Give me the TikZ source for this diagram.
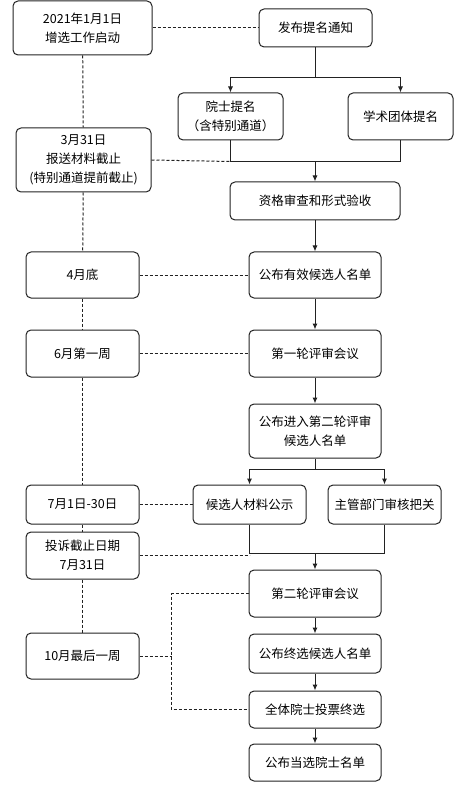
\documentclass[tikz,border=0pt]{standalone}
\usepackage{fontspec}
\usepackage{tikz}
\usetikzlibrary{arrows.meta, positioning}
\newfontfamily\cjkfont{Noto Sans CJK SC}
\definecolor{linegray}{HTML}{222222}

\begin{document}
\begin{tikzpicture}[
    node distance = 30pt and 40pt,
    every node/.style = {font=\cjkfont\fontsize{12.5}{19}\selectfont},
    box/.style = {rectangle, rounded corners=5pt, minimum width=132pt,
                  minimum height=47pt, draw=linegray, line width=1pt,
                  align=center, inner sep=2pt},
    datebox/.style = {box, minimum width=113pt},
    line/.style = {line width=1pt, color=linegray},
    arrow/.style = {-{Latex[length=6pt, width=5pt]}, line width=1pt, color=linegray},
    dashline/.style = {dash pattern=on 3pt off 2pt, line width=1pt, color=linegray}
  ]
    \useasboundingbox (0pt,0pt) rectangle (455pt,-791pt);

    % Main procedure
    \node[box, minimum width=113pt, minimum height=38pt] (notice) at (315.5pt,-28pt) {发布提名通知};
    \node[box, minimum width=105pt, below=45pt of notice, xshift=-85pt] (acad) {院士提名\\（含特别通道）};
    \node[box, minimum width=105pt, right=64pt of acad] (society) {学术团体提名};
    \node[box, minimum width=170pt, minimum height=38pt] (check) at (315pt,-201pt) {资格审查和形式验收};
    \node[box, minimum height=46pt, below=31pt of check] (valid) {公布有效候选人名单};
    \node[box, below=31pt of valid] (round1) {第一轮评审会议};
    \node[box, minimum height=54pt, below=26pt of round1] (list2) {公布进入第二轮评审\\候选人名单};
    \node[box, minimum width=113pt, minimum height=39pt, below=26pt of list2, xshift=-65.5pt] (public) {候选人材料公示};
    \node[box, minimum width=113pt, minimum height=39pt, right=21pt of public] (dept) {主管部门审核把关};
    \node[box] (round2) at (315pt,-593.5pt) {第二轮评审会议};
    \node[box, minimum height=39pt, below=16pt of round2] (final) {公布终选候选人名单};
    \node[box, minimum height=37pt, below=17pt of final] (vote) {全体院士投票终选};
    \node[box, minimum height=37pt, below=15pt of vote] (elected) {公布当选院士名单};

    % Dates
    \node[datebox, minimum width=139pt, minimum height=54pt, left=106pt of notice] (d1) {2021年1月1日\\增选工作启动};
    \node[datebox, minimum width=135pt, minimum height=64pt] (d2) at (83.5pt,-160pt) {3月31日\\报送材料截止\\(特别通道提前截止)};
    \node[datebox, minimum height=46pt, left=109pt of valid] (d3) {4月底};
    \node[datebox, left=109pt of round1] (d4) {6月第一周};
    \node[datebox, minimum height=39pt, left=53pt of public] (d5) {7月1日-30日};
    \node[datebox, below=7pt of d5] (d6) {投诉截止日期\\7月31日};
    \node[datebox, minimum height=46pt, below=53pt of d6] (d7) {10月最后一周};

    % Flow
    \draw[line] (notice.south) -- ++(0pt,-30pt) coordinate (s1);
    \draw[arrow] (s1) -| (acad);
    \draw[arrow] (s1) -| (society);
    \draw[line] (acad.south) -- ++(0pt,-21pt) coordinate (j1) -| (society.south);
    \draw[arrow] (j1 -| check.north) -- (check);
    \draw[arrow] (check) -- (valid);
    \draw[arrow] (valid) -- (round1);
    \draw[arrow] (round1) -- (list2);
    \draw[line] (list2.south) -- ++(0pt,-11pt) coordinate (s2);
    \draw[arrow] (s2) -| (public);
    \draw[arrow] (s2) -| (dept);
    \draw[line] (public.south) -- ++(0pt,-29pt) coordinate (j2) -| (dept.south);
    \draw[arrow] (j2 -| round2.north) -- (round2);
    \draw[arrow] (round2) -- (final);
    \draw[arrow] (final) -- (vote);
    \draw[arrow] (vote) -- (elected);

    % Timeline
    \foreach \a/\b in {d1/d2, d2/d3, d3/d4, d4/d5, d5/d6, d6/d7}
        \draw[dashline] (\a) -- (\b);
    \draw[dashline] (d1) -- (notice);
    \draw[dashline] (d2.east) -- (j1);
    \draw[dashline] (d3) -- (valid);
    \draw[dashline] (d4) -- (round1);
    \draw[dashline] (d5) -- (public);
    \draw[dashline] (d6.east) -- (d6.east -| j2);
    \draw[dashline] (d7.east) -- ++(32pt,0pt) coordinate (k);
    \draw[dashline] (round2.west) -| (k) |- (vote.west);

  \end{tikzpicture}
\end{document}
